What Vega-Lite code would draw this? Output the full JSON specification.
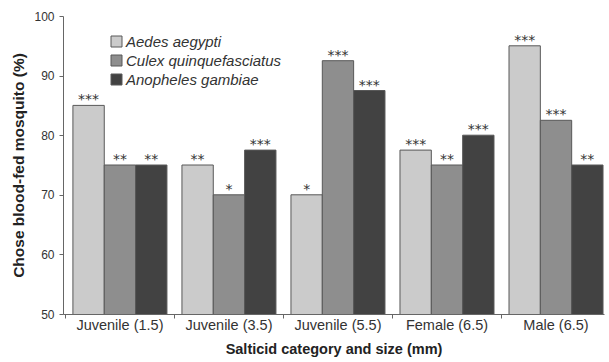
{
  "$schema": "https://vega.github.io/schema/vega-lite/v6.json",
  "width": 541,
  "height": 298,
  "autosize": "none",
  "padding": {"left": 63, "top": 16, "right": 5, "bottom": 48},
  "background": "white",
  "config": {
    "font": "Liberation Sans",
    "view": {"stroke": null},
    "axis": {"labelFont": "Liberation Sans", "titleFont": "Liberation Sans", "labelColor": "#333", "titleColor": "#222", "domainColor": "#666", "tickColor": "#666", "grid": false}
  },
  "data": {
    "values": [
      {"category": "Juvenile (1.5)", "species": "Aedes aegypti", "value": 85, "sig": "***"},
      {"category": "Juvenile (1.5)", "species": "Culex quinquefasciatus", "value": 75, "sig": "**"},
      {"category": "Juvenile (1.5)", "species": "Anopheles gambiae", "value": 75, "sig": "**"},
      {"category": "Juvenile (3.5)", "species": "Aedes aegypti", "value": 75, "sig": "**"},
      {"category": "Juvenile (3.5)", "species": "Culex quinquefasciatus", "value": 70, "sig": "*"},
      {"category": "Juvenile (3.5)", "species": "Anopheles gambiae", "value": 77.5, "sig": "***"},
      {"category": "Juvenile (5.5)", "species": "Aedes aegypti", "value": 70, "sig": "*"},
      {"category": "Juvenile (5.5)", "species": "Culex quinquefasciatus", "value": 92.5, "sig": "***"},
      {"category": "Juvenile (5.5)", "species": "Anopheles gambiae", "value": 87.5, "sig": "***"},
      {"category": "Female (6.5)", "species": "Aedes aegypti", "value": 77.5, "sig": "***"},
      {"category": "Female (6.5)", "species": "Culex quinquefasciatus", "value": 75, "sig": "**"},
      {"category": "Female (6.5)", "species": "Anopheles gambiae", "value": 80, "sig": "***"},
      {"category": "Male (6.5)", "species": "Aedes aegypti", "value": 95, "sig": "***"},
      {"category": "Male (6.5)", "species": "Culex quinquefasciatus", "value": 82.5, "sig": "***"},
      {"category": "Male (6.5)", "species": "Anopheles gambiae", "value": 75, "sig": "**"}
    ]
  },
  "layer": [
    {
      "mark": {"type": "bar", "stroke": "#585858", "strokeWidth": 1, "clip": true},
      "encoding": {
        "x": {
          "field": "category", "type": "nominal", "sort": null,
          "scale": {"paddingInner": 0.1376, "paddingOuter": 0.05, "align": 0.91},
          "axis": {"title": "Salticid category and size (mm)", "titleFontSize": 14.5, "titleFontWeight": "bold", "labelFontSize": 14.5, "labelAngle": 0, "ticks": false, "labelPadding": 4, "titlePadding": 11}
        },
        "xOffset": {"field": "species", "type": "nominal", "sort": ["Aedes aegypti", "Culex quinquefasciatus", "Anopheles gambiae"], "scale": {"paddingInner": 0, "paddingOuter": 0}},
        "y": {
          "field": "value", "type": "quantitative",
          "scale": {"domain": [50, 100], "zero": false},
          "axis": {"title": "Chose blood-fed mosquito (%)", "titleFontSize": 15.5, "titleFontWeight": "bold", "labelFontSize": 12, "values": [50, 60, 70, 80, 90, 100], "labelOverlap": false, "tickSize": 4, "labelPadding": 5, "titlePadding": 7}
        },
        "fill": {
          "field": "species", "type": "nominal",
          "sort": ["Aedes aegypti", "Culex quinquefasciatus", "Anopheles gambiae"],
          "scale": {"domain": ["Aedes aegypti", "Culex quinquefasciatus", "Anopheles gambiae"], "range": ["#cbcbcb", "#8e8e8e", "#424242"]},
          "legend": {
            "title": null, "orient": "none", "legendX": 46, "legendY": 18,
            "symbolType": "square", "symbolSize": 121, "symbolStrokeColor": "#585858", "symbolStrokeWidth": 1,
            "labelFontSize": 15, "labelFontStyle": "italic", "labelColor": "#333", "labelLimit": 0, "rowPadding": 3, "labelOffset": 2
          }
        }
      }
    },
    {
      "mark": {"type": "text", "baseline": "alphabetic", "dy": -1, "font": "DejaVu Sans", "fontSize": 14, "color": "#333"},
      "encoding": {
        "x": {
          "field": "category", "type": "nominal", "sort": null,
          "axis": {"orient": "bottom", "labels": false, "title": null, "domain": false, "ticks": true, "bandPosition": -0.08, "tickSize": 4}
        },
        "xOffset": {"field": "species", "type": "nominal", "sort": ["Aedes aegypti", "Culex quinquefasciatus", "Anopheles gambiae"]},
        "y": {"field": "value", "type": "quantitative"},
        "text": {"field": "sig"}
      }
    }
  ],
  "resolve": {"axis": {"x": "independent"}}
}
